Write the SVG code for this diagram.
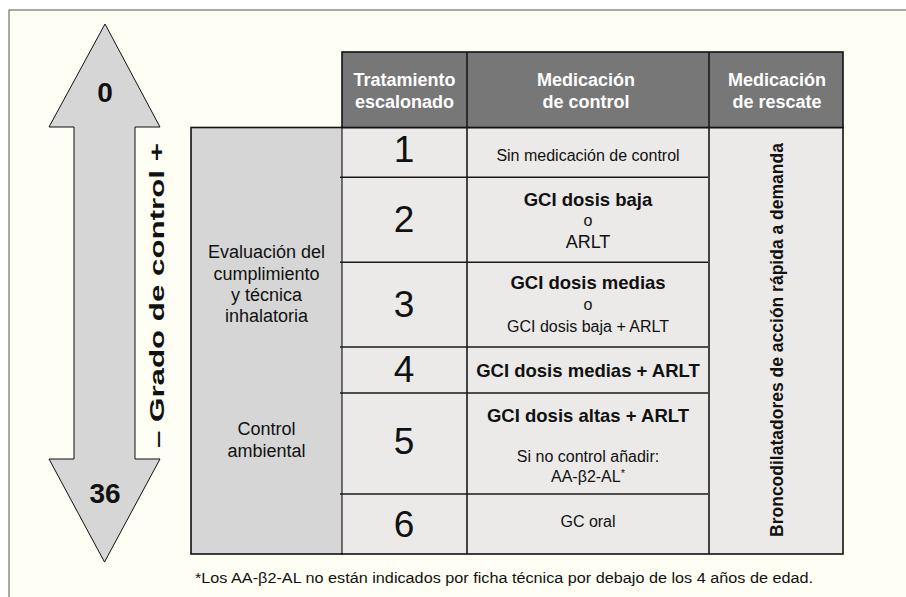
<svg xmlns="http://www.w3.org/2000/svg" width="906" height="597" viewBox="0 0 906 597">
<style>
text{font-family:"Liberation Sans",Arial,Helvetica,sans-serif;fill:#111;text-anchor:middle}
.b{font-weight:bold}
.hd{font-weight:bold;font-size:18px;fill:#fff}
.num{font-size:37px}
.med{font-size:16px}
.medb{font-size:18.5px;font-weight:bold}
.side{font-size:18px}
.dk{stroke:#1a1a1a;stroke-width:1.6;fill:none}
.cell{fill:#EBEAE8}
</style>
<rect id="frame" x="9" y="10" width="905" height="600" fill="#FEFEF4" stroke="#555" stroke-width="1"/>

<g id="arrow">
<polygon points="105,24 160,127 135,127 135,459 160,459 104.5,562 49,459 74,459 74,127 49,127" fill="#D6D6D6" stroke="#111" stroke-width="1"/>
<text class="b" x="105" y="101.5" font-size="28">0</text>
<text class="b" x="105" y="503" font-size="28">36</text>
<text class="b" transform="translate(163.5,295.5) rotate(-90)" font-size="21" textLength="305" lengthAdjust="spacingAndGlyphs">– Grado de control +</text>
</g>

<g id="side-box">
<rect x="191" y="127.5" width="151" height="426.5" fill="#D6D6D6" stroke="#111" stroke-width="1.6"/>
<text class="side" x="266.5" y="258">Evaluación del</text>
<text class="side" x="266.5" y="279.5">cumplimiento</text>
<text class="side" x="266.5" y="301">y técnica</text>
<text class="side" x="266.5" y="322">inhalatoria</text>
<text class="side" x="266.5" y="435">Control</text>
<text class="side" x="266.5" y="456.5">ambiental</text>
</g>

<g id="table-body">
<rect class="cell" x="342" y="127.5" width="501" height="426.5" stroke="#111" stroke-width="1.6"/>
</g>

<g id="header">
<rect x="342" y="52" width="501" height="75.5" fill="#777777" stroke="#111" stroke-width="1.6"/>
<text class="hd" x="404.5" y="86">Tratamiento</text>
<text class="hd" x="404.5" y="108">escalonado</text>
<text class="hd" x="586" y="86">Medicación</text>
<text class="hd" x="586" y="108">de control</text>
<text class="hd" x="777" y="86">Medicación</text>
<text class="hd" x="777" y="108">de rescate</text>
</g>

<g id="connectors">
<line x1="342" y1="128.5" x2="342" y2="553" stroke="#999" stroke-width="1.2"/>
<line class="dk" x1="467" y1="52" x2="467" y2="554"/>
<line class="dk" x1="709" y1="52" x2="709" y2="554"/>
<line class="dk" x1="340" y1="177.3" x2="708" y2="177.3"/>
<line class="dk" x1="340" y1="262.3" x2="708" y2="262.3"/>
<line class="dk" x1="340" y1="347" x2="708" y2="347"/>
<line class="dk" x1="340" y1="393" x2="708" y2="393"/>
<line class="dk" x1="340" y1="494" x2="708" y2="494"/>
</g>

<g id="step-1">
<text class="num" x="404" y="161.5">1</text>
<text class="med" x="588" y="160.5">Sin medicación de control</text>
</g>
<g id="step-2">
<text class="num" x="404" y="232">2</text>
<text class="medb" x="588" y="205.5">GCI dosis baja</text>
<text class="med" x="588" y="226">o</text>
<text x="588" y="248" font-size="18">ARLT</text>
</g>
<g id="step-3">
<text class="num" x="404" y="316.5">3</text>
<text class="medb" x="588" y="289">GCI dosis medias</text>
<text class="med" x="588" y="310">o</text>
<text class="med" x="588" y="332">GCI dosis baja + ARLT</text>
</g>
<g id="step-4">
<text class="num" x="404" y="381.5">4</text>
<text class="medb" x="588" y="377">GCI dosis medias + ARLT</text>
</g>
<g id="step-5">
<text class="num" x="404" y="454">5</text>
<text class="medb" x="588" y="422">GCI dosis altas + ARLT</text>
<text class="med" x="588" y="462">Si no control añadir:</text>
<text class="med" x="588" y="481.5">AA-β2-AL<tspan font-size="11" dy="-5">*</tspan></text>
</g>
<g id="step-6">
<text class="num" x="404" y="537">6</text>
<text class="med" x="588" y="526.5">GC oral</text>
</g>

<g id="rescue">
<text class="b" transform="translate(783,340) rotate(-90)" font-size="17.5">Broncodilatadores de acción rápida a demanda</text>
</g>

<g id="footnote">
<text x="195" y="583" font-size="15.5" style="text-anchor:start" textLength="618" lengthAdjust="spacingAndGlyphs">*Los AA-β2-AL no están indicados por ficha técnica por debajo de los 4 años de edad.</text>
</g>
</svg>
